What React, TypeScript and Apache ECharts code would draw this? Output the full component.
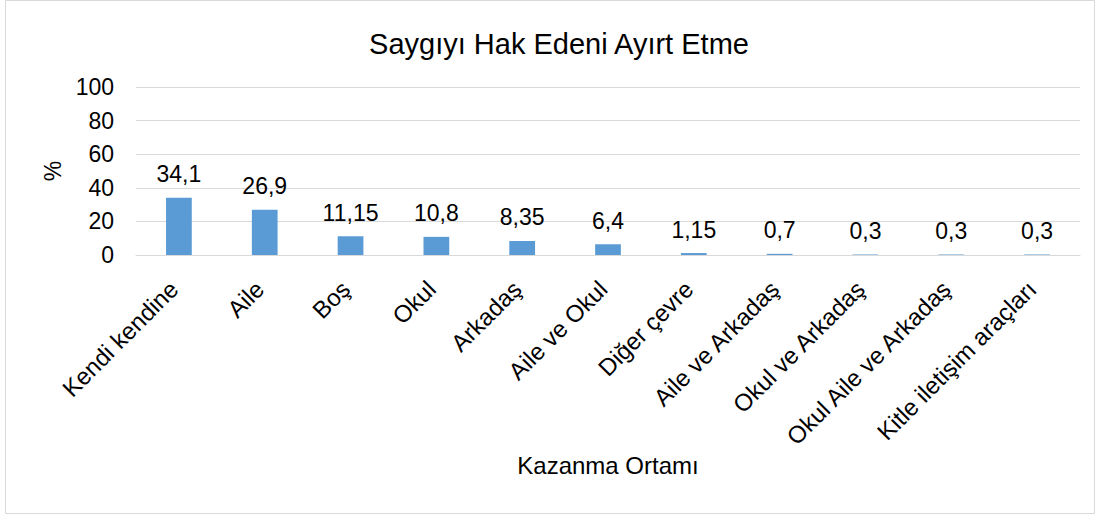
import React, { useEffect, useRef } from "react";
import * as echarts from "echarts";

const categories = [
  "Kendi kendine",
  "Aile",
  "Boş",
  "Okul",
  "Arkadaş",
  "Aile ve Okul",
  "Diğer çevre",
  "Aile ve Arkadaş",
  "Okul ve Arkadaş",
  "Okul Aile ve Arkadaş",
  "Kitle iletişim araçları",
];
const values = [34.1, 26.9, 11.15, 10.8, 8.35, 6.4, 1.15, 0.7, 0.3, 0.3, 0.3];
const titleText = "Saygıyı Hak Edeni Ayırt Etme";
const xName = "Kazanma Ortamı";
const yName = "%";

const FONT = "'Liberation Sans', Arial, sans-serif";
const FS = 23;
const FS_CAT = 24;

export default function App() {
  const ref = useRef<HTMLDivElement>(null);
  useEffect(() => {
    document.body.style.margin = "0";
    const chart = echarts.init(ref.current!, null, { renderer: "svg" });
    chart.setOption({
      animation: false,
      backgroundColor: "#ffffff",
      textStyle: { fontFamily: FONT, color: "#000" },
      title: {
        text: titleText,
        left: 554,
        textAlign: "center",
        top: 24,
        textStyle: { fontFamily: FONT, fontSize: 29, fontWeight: "normal", color: "#000" },
      },
      graphic: [
        {
          type: "rect",
          shape: { x: 5.5, y: 0.5, width: 1089, height: 513 },
          style: { fill: "none", stroke: "#d9d9d9", lineWidth: 1 },
          silent: true,
        },
      ],
      grid: { left: 136, right: 20, top: 87, bottom: 261, containLabel: false },
      xAxis: {
        type: "category",
        data: categories,
        name: xName,
        nameLocation: "middle",
        nameGap: 198,
        nameTextStyle: { fontFamily: FONT, fontSize: FS_CAT, color: "#000" },
        axisLine: { lineStyle: { color: "#d9d9d9", width: 1 } },
        axisTick: { show: false },
        axisLabel: {
          interval: 0,
          rotate: 45,
          margin: 25,
          padding: [0, 7, 0, 0],
          fontFamily: FONT,
          fontSize: FS_CAT,
          color: "#000",
        },
      },
      yAxis: {
        type: "value",
        min: 0,
        max: 100,
        interval: 20,
        name: yName,
        nameLocation: "middle",
        nameGap: 67,
        nameRotate: 90,
        nameTextStyle: { fontFamily: FONT, fontSize: FS, color: "#000" },
        axisLine: { show: false },
        axisTick: { show: false },
        axisLabel: { fontFamily: FONT, fontSize: FS, color: "#000", margin: 22 },
        splitLine: { lineStyle: { color: "#d9d9d9", width: 1 } },
      },
      series: [
        {
          type: "bar",
          data: values,
          barWidth: "30%",
          itemStyle: { color: "#5B9BD5" },
          label: {
            show: true,
            position: "top",
            distance: 12,
            fontFamily: FONT,
            fontSize: FS,
            color: "#000",
            formatter: (p: any) => String(p.value).replace(".", ","),
          },
        },
      ],
    });
    return () => chart.dispose();
  }, []);
  return <div ref={ref} style={{ width: 1100, height: 516 }} />;
}
